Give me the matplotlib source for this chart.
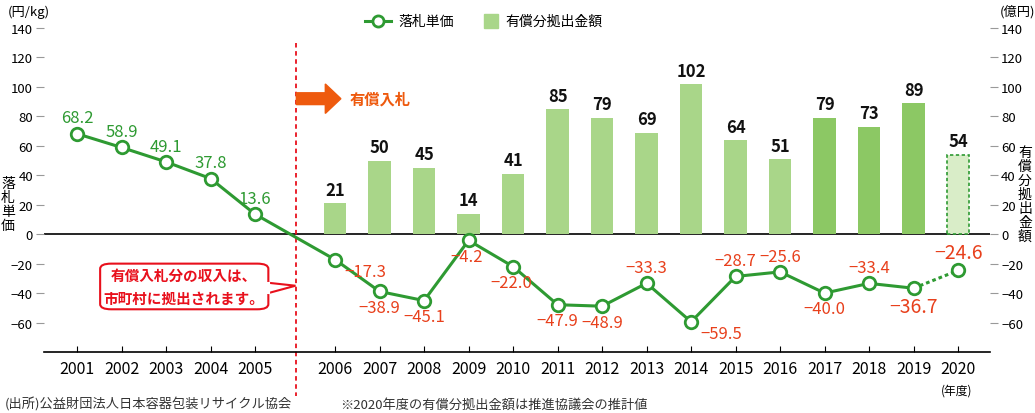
import matplotlib
matplotlib.use("Agg")
import matplotlib.pyplot as plt
from matplotlib.patches import FancyBboxPatch, Polygon

plt.rcParams['font.family'] = ['Noto Sans CJK JP', 'DejaVu Sans']

years = [2001, 2002, 2003, 2004, 2005, 2006, 2007, 2008, 2009, 2010, 2011, 2012, 2013, 2014, 2015, 2016, 2017, 2018, 2019, 2020]
price = [68.2, 58.9, 49.1, 37.8, 13.6, -17.3, -38.9, -45.1, -4.2, -22.0, -47.9, -48.9, -33.3, -59.5, -28.7, -25.6, -40.0, -33.4, -36.7, -24.6]
bar_years = [2006, 2007, 2008, 2009, 2010, 2011, 2012, 2013, 2014, 2015, 2016, 2017, 2018, 2019, 2020]
amount = [21, 50, 45, 14, 41, 85, 79, 69, 102, 64, 51, 79, 73, 89, 54]

def xpos(y):
    return (y - 2001) if y <= 2005 else 5.8 + (y - 2006)

W, H = 1035, 414
fig = plt.figure(figsize=(W/100, H/100), dpi=100)
ax = fig.add_axes([44/W, 1-353/H, (990-44)/W, (353-29)/H])
ax.set_xlim((44-77)/44.5, (990-77)/44.5)
ax.set_ylim(-80, 140)

GREEN = '#2e9a32'; LGREEN = '#a9d689'; DGREEN = '#8cc864'; RED = '#e8401c'

bx = [xpos(y) for y in bar_years]
for x, v, y in zip(bx, amount, bar_years):
    if y == 2020:
        ax.bar(x, v, width=0.5, color='#d9edc8', edgecolor=GREEN, linestyle=(0, (2, 1.5)), linewidth=1.2, zorder=2)
    else:
        ax.bar(x, v, width=0.5, color=DGREEN if y >= 2017 else LGREEN, zorder=2)
    ax.text(x, v + 3, str(v), ha='center', va='bottom', fontsize=12, fontweight='bold', color='#111', zorder=5)

px = [xpos(y) for y in years]
ax.plot(px[:-1], price[:-1], color=GREEN, lw=2.2, zorder=3)
ax.plot(px[-2:], price[-2:], color=GREEN, lw=2.2, ls=(0, (1.2, 1.0)), zorder=3)
ax.plot(px, price, 'o', ms=9, mfc='white', mec=GREEN, mew=2, zorder=4)

for x, v, y in zip(px, price, years):
    if v > 0:
        ax.text(x, v + 5, f"{v:.1f}", ha='center', va='bottom', fontsize=12, color=GREEN)
    else:
        s = f"\u2212{abs(v):.1f}"
        big = y in (2019, 2020)
        fs = 14 if big else 12
        if y in (2013, 2015, 2016, 2018, 2020):
            ax.text(x, v + 5, s, ha='center', va='bottom', fontsize=fs, color=RED)
        elif y in (2006, 2014):
            ax.text(x + 0.2, v - 2, s, ha='left', va='top', fontsize=fs, color=RED)
        elif y in (2009, 2010):
            ax.text(x - 0.05, v - 5, s, ha='center', va='top', fontsize=fs, color=RED)
        else:
            ax.text(x, v - 5, s, ha='center', va='top', fontsize=fs, color=RED)

ax.axhline(0, color='black', lw=1.2, zorder=1)
for s in ['top', 'left', 'right']:
    ax.spines[s].set_visible(False)
ax.spines['bottom'].set_linewidth(1.2)

ticks = list(range(-60, 141, 20))
ax.set_yticks(ticks)
ax.set_yticklabels([str(t).replace('-', '\u2212') for t in ticks], fontsize=9.5)
ax.tick_params(axis='y', direction='out', length=6, color='#999', pad=2)
ax2 = ax.twinx()
ax2.set_ylim(-80, 140)
ax2.set_yticks(ticks)
ax2.set_yticklabels([str(t).replace('-', '\u2212') for t in ticks], fontsize=9.5)
ax2.tick_params(axis='y', direction='out', length=6, color='#999', pad=2)
for s in ax2.spines.values():
    s.set_visible(False)

ax.set_xticks(px)
ax.set_xticklabels([str(y) for y in years], fontsize=11.5)
ax.tick_params(axis='x', direction='in', length=4, pad=6)

dx = 4.93
ax.plot([dx, dx], [130, -110], color='#e8101c', ls=(0, (2.5, 2)), lw=1.3, clip_on=False, zorder=2)

arrow = Polygon([[dx, 96], [dx + 0.65, 96], [dx + 0.65, 102], [dx + 1.0, 92], [dx + 0.65, 82], [dx + 0.65, 88], [dx, 88]],
                closed=True, color='#ee5a0e', zorder=5)
ax.add_patch(arrow)
ax.text(dx + 1.2, 92, '有償入札', fontsize=11, fontweight='bold', color='#ee5a0e', va='center')

box = FancyBboxPatch((0.52, -51), 3.78, 31, boxstyle='round,pad=0,rounding_size=0.25',
                     fc='white', ec='#e8101c', lw=1.5, zorder=5, mutation_aspect=14)
ax.add_patch(box)
ax.add_patch(Polygon([[4.3, -33], [dx - 0.02, -35], [4.3, -40]], closed=True, fc='white', ec='#e8101c', lw=1.5, zorder=6))
ax.plot([4.29, 4.29], [-33.6, -39.4], color='white', lw=3, zorder=7)
ax.text(2.41, -35.5, '有償入札分の収入は、\n市町村に拠出されます。', ha='center', va='center', fontsize=10.5,
        fontweight='bold', color='#e8101c', zorder=8, linespacing=1.5)

fig.text(8/W, 1-12/H, '(円/kg)', fontsize=9.5, va='center')
fig.text(1000/W, 1-12/H, '(億円)', fontsize=9.5, va='center')
fig.text(8/W, 1-205/H, '落\n札\n単\n価', fontsize=10, va='center', ha='center', linespacing=1.0)
fig.text(1025/W, 1-195/H, '有\n償\n分\n拠\n出\n金\n額', fontsize=10, va='center', ha='center', linespacing=1.0)
fig.text(957/W, 1-391/H, '(年度)', fontsize=8.5, ha='center', va='center')
fig.text(5/W, 1-405/H, '(出所)公益財団法人日本容器包装リサイクル協会', fontsize=9.5, va='center', color='#333')
fig.text(340/W, 1-405/H, '※2020年度の有償分拠出金額は推進協議会の推計値', fontsize=9.5, va='center', color='#333')

lx = 365
fig.add_artist(plt.Line2D([lx/W, (lx+26)/W], [1-22/H, 1-22/H], color=GREEN, lw=2.2))
fig.add_artist(plt.Line2D([(lx+13)/W], [1-22/H], marker='o', ms=8, mfc='white', mec=GREEN, mew=2))
fig.text((lx+33)/W, 1-22/H, '落札単価', fontsize=10, va='center')
fig.add_artist(plt.Rectangle((484/W, 1-29/H), 14/W, 14/H, color=LGREEN))
fig.text(505/W, 1-22/H, '有償分拠出金額', fontsize=10, va='center')

fig.savefig('out.png', dpi=100)
